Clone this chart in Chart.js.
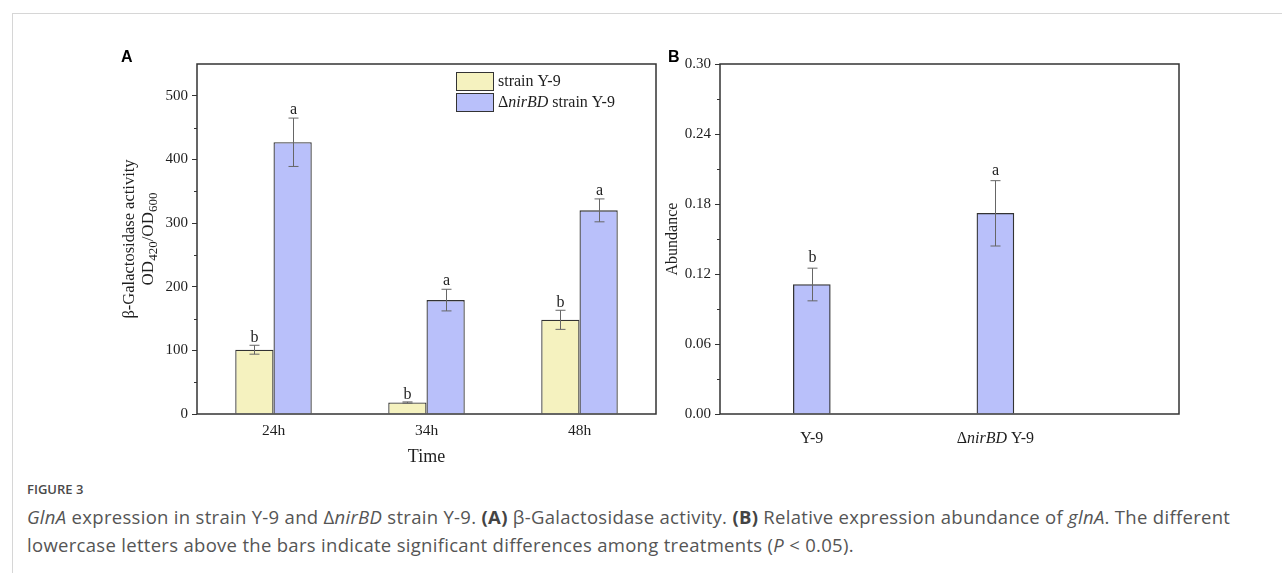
<!DOCTYPE html>
<html>
<head>
<meta charset="utf-8">
<script src="https://cdn.jsdelivr.net/npm/chart.js@4.4.1/dist/chart.umd.min.js"></script>
<style>
body { margin:0; background:#fff; width:1282px; height:573px; position:relative; overflow:hidden; }
#frameTop { position:absolute; left:12px; top:13px; right:0; height:1px; background:#d6d6d6; }
#frameLeft { position:absolute; left:12px; top:13px; bottom:0; width:1px; background:#d6d6d6; }
#chartA { position:absolute; left:0; top:0; }
#chartB { position:absolute; left:660px; top:0; }
#figLabel { position:absolute; left:27px; top:480px; font-family:"Open Sans", sans-serif; font-size:13px; font-weight:600; color:#4a4a4a; }
#caption { position:absolute; left:27px; top:503px; width:1250px; font-family:"Open Sans", sans-serif; font-size:18.5px; letter-spacing:0.3px; line-height:28px; color:#555; white-space:nowrap; }
#caption b { color:#444; }
</style>
</head>
<body>
<div id="frameTop"></div>
<div id="frameLeft"></div>
<canvas id="chartA" width="660" height="470"></canvas>
<canvas id="chartB" width="560" height="470"></canvas>
<div id="figLabel">FIGURE 3</div>
<div id="caption"><i>GlnA</i> expression in strain Y-9 and Δ<i>nirBD</i> strain Y-9. <b>(A)</b> β-Galactosidase activity. <b>(B)</b> Relative expression abundance of <i>glnA</i>. The different<br>lowercase letters above the bars indicate significant differences among treatments (<i>P</i> &lt; 0.05).</div>
<script>
// panel A data
const timeLabels = ["24h", "34h", "48h"];
const wildMeans = [101, 18, 148];
const wildErr = [7, 1, 15];
const wildLetters = ["b", "b", "b"];
const mutantMeans = [427, 179, 320];
const mutantErr = [38, 17, 18];
const mutantLetters = ["a", "a", "a"];
const yTicksA = [0, 100, 200, 300, 400, 500];
const yMinorA = [50, 150, 250, 350, 450];

// panel B data
const strainLabels = ["Y-9", "ΔnirBD Y-9"];
const strainPos = [1, 2];
const abundance = [0.111, 0.172];
const abundanceErr = [0.014, 0.028];
const abundanceLetters = ["b", "a"];
const yTicksB = [0, 0.06, 0.12, 0.18, 0.24, 0.30];
const yMinorB = [0.03, 0.09, 0.15, 0.21, 0.27];

const serif = '"Liberation Serif", "Times New Roman", serif';
const yellow = "#f5f2bf";
const blue = "#b9c0fa";
const ink = "#1e1e1e";

function drawRuns(ctx, runs, x, y, align) {
    let total = 0;
    runs.forEach(r => { ctx.font = r.font; total += ctx.measureText(r.text).width; });
    let cx = x;
    if (align === "center") cx = x - total / 2;
    if (align === "right") cx = x - total;
    ctx.textAlign = "left";
    runs.forEach(r => {
        ctx.font = r.font;
        ctx.fillText(r.text, cx, y + (r.dy || 0));
        cx += ctx.measureText(r.text).width;
    });
}

function drawBox(chart) {
    const a = chart.chartArea;
    const ctx = chart.ctx;
    ctx.save();
    ctx.strokeStyle = "#333";
    ctx.lineWidth = 1.5;
    ctx.strokeRect(a.left, a.top, a.right - a.left, a.bottom - a.top);
    ctx.restore();
}

function drawMinor(chart, values) {
    const ctx = chart.ctx;
    const ys = chart.scales.y;
    const left = chart.chartArea.left;
    ctx.save();
    ctx.strokeStyle = "#333";
    ctx.lineWidth = 1;
    values.forEach(v => {
        const y = Math.round(ys.getPixelForValue(v)) + 0.5;
        ctx.beginPath();
        ctx.moveTo(left - 3, y);
        ctx.lineTo(left, y);
        ctx.stroke();
    });
    ctx.restore();
}

function drawErrors(chart, dsIndex, means, errs, letters, gap) {
    const ctx = chart.ctx;
    const ys = chart.scales.y;
    const meta = chart.getDatasetMeta(dsIndex);
    ctx.save();
    meta.data.forEach((bar, j) => {
        const x = Math.round(bar.x) + 0.5;
        const top = ys.getPixelForValue(means[j] + errs[j]);
        const bot = ys.getPixelForValue(means[j] - errs[j]);
        ctx.strokeStyle = "#666";
        ctx.lineWidth = 1;
        ctx.beginPath();
        ctx.moveTo(x, top); ctx.lineTo(x, bot);
        ctx.moveTo(x - 5, top); ctx.lineTo(x + 5, top);
        ctx.moveTo(x - 5, bot); ctx.lineTo(x + 5, bot);
        ctx.stroke();
        ctx.fillStyle = ink;
        ctx.font = "16px " + serif;
        ctx.textAlign = "center";
        ctx.textBaseline = "alphabetic";
        ctx.fillText(letters[j], x, top - gap);
    });
    ctx.restore();
}

const panelAExtras = {
    id: "panelAExtras",
    afterDraw(chart) {
        const ctx = chart.ctx;
        const a = chart.chartArea;
        drawBox(chart);
        drawMinor(chart, yMinorA);
        drawErrors(chart, 0, wildMeans, wildErr, wildLetters, 3);
        drawErrors(chart, 1, mutantMeans, mutantErr, mutantLetters, 4);

        ctx.save();
        // legend
        const items = [
            { color: yellow, runs: [{ text: "strain Y-9", font: "16px " + serif }] },
            { color: blue, runs: [
                { text: "Δ", font: "16px " + serif },
                { text: "nirBD", font: "italic 16px " + serif },
                { text: " strain Y-9", font: "16px " + serif }] }
        ];
        items.forEach((it, i) => {
            const top = 72 + i * 21;
            ctx.fillStyle = it.color;
            ctx.fillRect(456, top, 37, 18);
            ctx.strokeStyle = "#333";
            ctx.lineWidth = 1;
            ctx.strokeRect(456.5, top + 0.5, 37, 18);
            ctx.fillStyle = ink;
            ctx.textBaseline = "alphabetic";
            drawRuns(ctx, it.runs, 498, top + 14, "left");
        });

        // panel letter
        ctx.fillStyle = "#000";
        ctx.font = "bold 16px Arial, 'Liberation Sans', sans-serif";
        ctx.textAlign = "left";
        ctx.fillText("A", 121, 62);

        // x title
        ctx.font = "18px " + serif;
        ctx.textAlign = "center";
        ctx.fillStyle = ink;
        ctx.fillText("Time", (a.left + a.right) / 2, 462);

        // y title, two lines
        const cy = (a.top + a.bottom) / 2;
        ctx.translate(134, cy);
        ctx.rotate(-Math.PI / 2);
        ctx.font = "16.5px " + serif;
        ctx.fillText("β-Galactosidase activity", 0, 0);
        ctx.rotate(Math.PI / 2);
        ctx.translate(19, 0);
        ctx.rotate(-Math.PI / 2);
        drawRuns(ctx, [
            { text: "OD", font: "17px " + serif },
            { text: "420", font: "13px " + serif, dy: 4 },
            { text: "/OD", font: "17px " + serif },
            { text: "600", font: "13px " + serif, dy: 4 }
        ], 0, 0, "center");
        ctx.restore();
    }
};

const panelBExtras = {
    id: "panelBExtras",
    afterDraw(chart) {
        const ctx = chart.ctx;
        const a = chart.chartArea;
        drawBox(chart);
        drawMinor(chart, yMinorB);
        drawErrors(chart, 0, abundance, abundanceErr, abundanceLetters, 6);

        ctx.save();
        ctx.fillStyle = ink;
        ctx.textBaseline = "alphabetic";
        const xs = chart.scales.x;
        strainLabels.forEach((lab, i) => {
            const x = xs.getPixelForValue(strainPos[i]);
            if (lab.startsWith("Δ")) {
                const rest = lab.slice(1).split(" ");
                drawRuns(ctx, [
                    { text: "Δ", font: "16px " + serif },
                    { text: rest[0], font: "italic 16px " + serif },
                    { text: " " + rest.slice(1).join(" "), font: "16px " + serif }
                ], x, 443, "center");
            } else {
                drawRuns(ctx, [{ text: lab, font: "16px " + serif }], x, 443, "center");
            }
        });

        ctx.fillStyle = "#000";
        ctx.font = "bold 16px Arial, 'Liberation Sans', sans-serif";
        ctx.textAlign = "left";
        ctx.fillText("B", 8, 62);

        ctx.fillStyle = ink;
        ctx.translate(17, (a.top + a.bottom) / 2);
        ctx.rotate(-Math.PI / 2);
        ctx.font = "16px " + serif;
        ctx.textAlign = "center";
        ctx.fillText("Abundance", 0, 0);
        ctx.restore();
    }
};

const chartA = new Chart(document.getElementById("chartA"), {
    type: "bar",
    data: {
        labels: timeLabels,
        datasets: [
            { label: "strain Y-9", data: wildMeans, backgroundColor: yellow, borderColor: "#333", borderWidth: 1.3 },
            { label: "ΔnirBD strain Y-9", data: mutantMeans, backgroundColor: blue, borderColor: "#333", borderWidth: 1.3 }
        ]
    },
    options: {
        responsive: false,
        animation: false,
        layout: { padding: { left: 137, top: 64, right: 4, bottom: 16 } },
        plugins: { legend: { display: false }, tooltip: { enabled: false } },
        datasets: { bar: { categoryPercentage: 0.5, barPercentage: 1.0 } },
        scales: {
            x: {
                grid: { display: false, drawTicks: false },
                border: { display: false },
                ticks: { color: ink, font: { family: serif, size: 15.5 }, padding: 8 },
                afterFit(s) { s.height = 40; }
            },
            y: {
                min: 0,
                max: 550,
                grid: { display: true, drawOnChartArea: false, drawTicks: true, tickLength: 5, color: "#333" },
                border: { display: false },
                ticks: { color: ink, font: { family: serif, size: 15 }, padding: 4 },
                afterBuildTicks(s) { s.ticks = yTicksA.map(v => ({ value: v })); },
                afterFit(s) { s.width = 60; }
            }
        }
    },
    plugins: [panelAExtras]
});

const chartB = new Chart(document.getElementById("chartB"), {
    type: "bar",
    data: {
        datasets: [{
            label: "Abundance",
            data: strainPos.map((p, i) => ({ x: p, y: abundance[i] })),
            backgroundColor: blue,
            borderColor: "#333",
            borderWidth: 1.3,
            barThickness: 37
        }]
    },
    options: {
        responsive: false,
        animation: false,
        layout: { padding: { left: 10, top: 64, right: 41, bottom: 16 } },
        plugins: { legend: { display: false }, tooltip: { enabled: false } },
        scales: {
            x: {
                type: "linear",
                min: 0.5,
                max: 3,
                offset: false,
                grid: { display: false, drawTicks: false },
                border: { display: false },
                ticks: { display: false },
                afterFit(s) { s.height = 40; }
            },
            y: {
                min: 0,
                max: 0.3,
                grid: { display: true, drawOnChartArea: false, drawTicks: true, tickLength: 5, color: "#333" },
                border: { display: false },
                ticks: { color: ink, font: { family: serif, size: 15 }, padding: 4, callback: v => v.toFixed(2) },
                afterBuildTicks(s) { s.ticks = yTicksB.map(v => ({ value: v })); },
                afterFit(s) { s.width = 50; }
            }
        }
    },
    plugins: [panelBExtras]
});
</script>
</body>
</html>
